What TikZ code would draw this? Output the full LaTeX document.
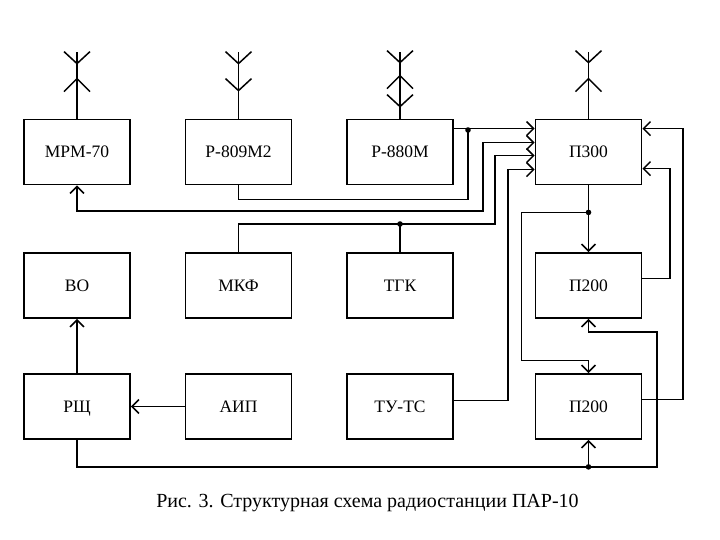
\documentclass[tikz,border=0pt]{standalone}
\usepackage{fontspec}
\setmainfont{Liberation Serif}
\usetikzlibrary{arrows.meta}

\def\antennaMast{67}
\newcommand{\antcup}[2]{\draw (#1.north) ++(-13,#2) -- ++(13,12) -- ++(13,-12);}
\newcommand{\antcap}[2]{\draw (#1.north) ++(-13,#2) -- ++(13,-13) -- ++(13,13);}

\begin{document}
\begin{tikzpicture}[x=1pt,y=-1pt,
    blk/.style={draw,line width=1.8pt,minimum width=106pt,minimum height=65pt,inner sep=0pt,
        text height=12pt,text depth=0pt,font=\fontsize{17.5}{20}\selectfont},
    >={Straight Barb[length=7pt,width=14pt]}]
\useasboundingbox (0,0) rectangle (720,540);

\foreach \nm/\x/\y/\txt in {mrm/77/152/МРМ-70, rv/238.5/152/Р-809М2, rz/400/152/Р-880М, pz/588.5/152/П300,
        vo/77/285.5/ВО, mkf/238.5/285.5/МКФ, tgk/400/285.5/ТГК, pa/588.5/285.5/П200,
        rsch/77/406.5/РЩ, aip/238.5/406.5/АИП, tuts/400/406.5/ТУ-ТС, pb/588.5/406.5/П200}{%
    \node[blk] (\nm) at (\x,\y) {\txt};
}

\begin{scope}[line width=1.5pt]
    \foreach \nm in {mrm,rv,rz,pz}{%
        \draw (\nm.north) -- ++(0,-\antennaMast);
    }
    \antcup{mrm}{-67} \antcap{mrm}{-27}
    \antcup{rv}{-67}  \antcup{rv}{-40}
    \antcup{rz}{-68}  \antcap{rz}{-30} \antcup{rz}{-24}
    \antcup{pz}{-68}  \antcap{pz}{-27}

    \coordinate (j1) at (468,130);
    \coordinate (j2) at (tgk.north |- 0,224);
    \path (pz.south) ++(0,27) coordinate (j3);
    \path (pb.south) ++(0,27) coordinate (j4);

    \draw [->] ([yshift=-10pt]rz.north east) -- ([yshift=-10pt]pz.north west);
    \draw (rv.south) -- ++(0,14) -| (j1);
    \draw [<->] (mrm.south) |- (483,211) |- ([yshift=-24pt]pz.north west);
    \draw [->] (mkf.north) |- (495,224) |- ([yshift=-37pt]pz.north west);
    \draw (tgk.north) -- (j2);
    \draw [->] ([yshift=6pt]tuts.east) -| (508,300) |- ([yshift=-51pt]pz.north west);

    \draw [->] ([yshift=7pt]pa.east) -| (670,200) |- ([yshift=-50pt]pz.north east);
    \draw [->] ([yshift=7pt]pb.east) -| (683,300) |- ([yshift=-10pt]pz.north east);

    \draw [->] (pz.south) -- (pa.north);
    \draw [->] (j3) -| ++(-67,148) -| (pb.north);

    \draw [->] (rsch.south) |- (j4) -| (657,332) -| (pa.south);
    \draw [->] (j4) -- (pb.south);

    \draw [->] (rsch.north) -- (vo.south);
    \draw [->] (aip.west) -- (rsch.east);

    \foreach \j in {j1,j2,j3,j4}{%
        \fill (\j) circle (2.8);
    }
\end{scope}

\node [font=\fontsize{20}{22}\selectfont] (cap) at (367.5,503) {Рис. 3. Структурная схема радиостанции ПАР-10};
\end{tikzpicture}
\end{document}
